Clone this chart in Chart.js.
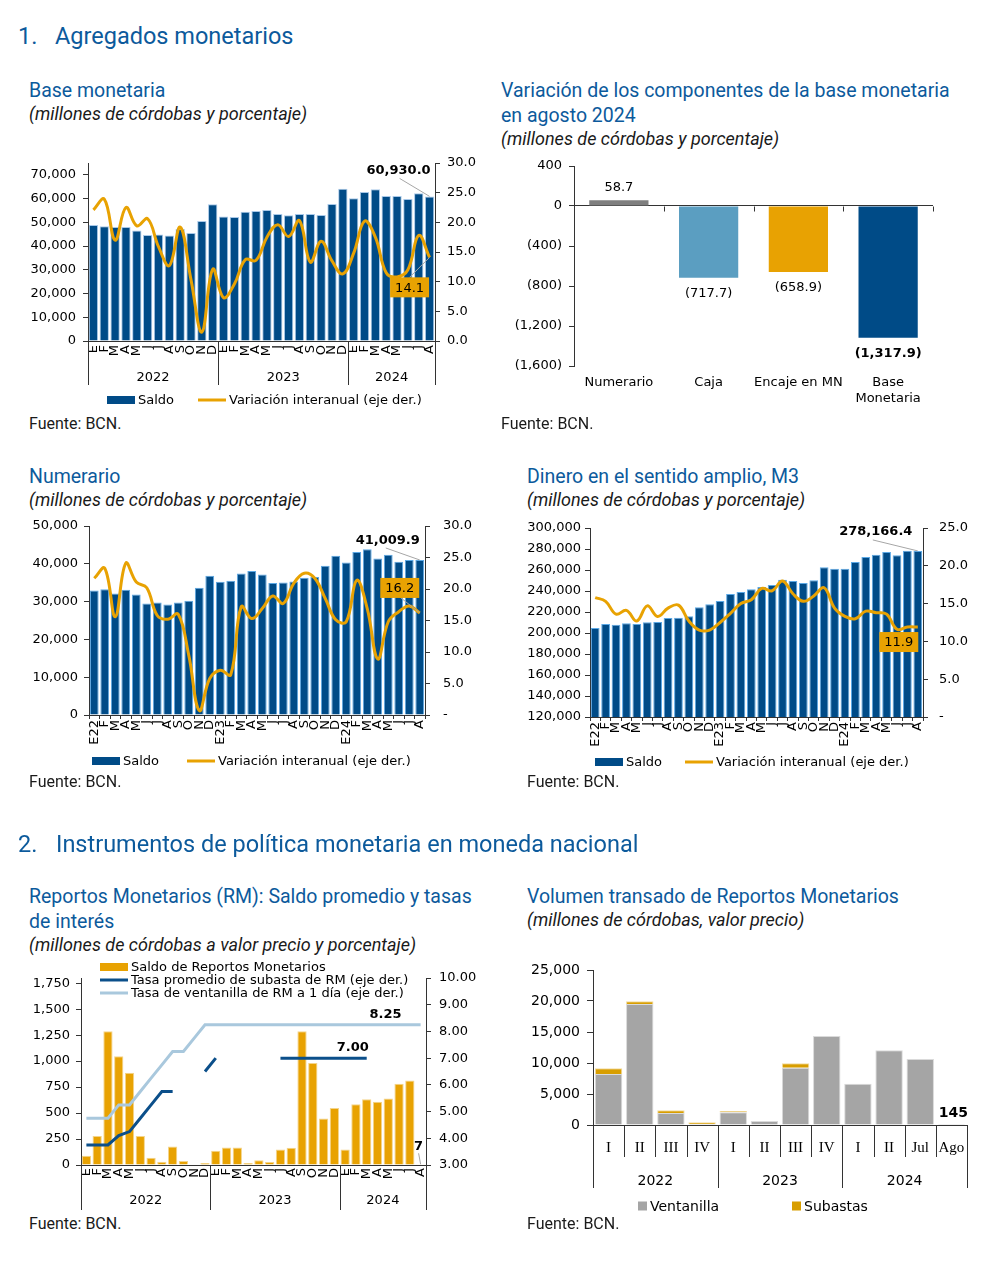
<!DOCTYPE html>
<html lang="es">
<head>
<meta charset="utf-8">
<title>Agregados monetarios</title>
<script src="https://cdn.jsdelivr.net/npm/chart.js@4.4.1/dist/chart.umd.min.js"></script>
<style>
  html, body { margin: 0; padding: 0; background: #fff; }
  body { position: relative; width: 987px; height: 1274px; overflow: hidden; font-family: Roboto, "Noto Sans", sans-serif; }
  .t { position: absolute; white-space: nowrap; line-height: 1; color: #0C5A9C; }
  .h { font-size: 23.5px; }
  .ct { font-size: 19.5px; }
  .ct2 { font-size: 19.5px; line-height: 25px; }
  .st { font-size: 18px; font-style: italic; color: #1a1a1a; }
  .src { font-size: 16px; color: #1a1a1a; }
  .caja { position: absolute; }
</style>
</head>
<body>
<div class="t h" style="left:18px;top:25px">1.</div>
<div class="t h" style="left:55px;top:25px">Agregados monetarios</div>

<div class="t ct" style="left:29px;top:81px">Base monetaria</div>
<div class="t st" style="left:29px;top:105px">(millones de córdobas y porcentaje)</div>
<div class="caja" style="left:18px;top:150px;width:472px;height:262px"><canvas id="graf-base"></canvas></div>
<div class="t src" style="left:29px;top:416px">Fuente: BCN.</div>

<div class="t ct2" style="left:501px;top:78px">Variación de los componentes de la base monetaria<br>en agosto 2024</div>
<div class="t st" style="left:501px;top:130px">(millones de córdobas y porcentaje)</div>
<div class="caja" style="left:505px;top:150px;width:455px;height:265px"><canvas id="graf-variacion"></canvas></div>
<div class="t src" style="left:501px;top:416px">Fuente: BCN.</div>

<div class="t ct" style="left:29px;top:467px">Numerario</div>
<div class="t st" style="left:29px;top:491px">(millones de córdobas y porcentaje)</div>
<div class="caja" style="left:18px;top:515px;width:472px;height:262px"><canvas id="graf-numerario"></canvas></div>
<div class="t src" style="left:29px;top:774px">Fuente: BCN.</div>

<div class="t ct" style="left:527px;top:467px">Dinero en el sentido amplio, M3</div>
<div class="t st" style="left:527px;top:491px">(millones de córdobas y porcentaje)</div>
<div class="caja" style="left:520px;top:515px;width:460px;height:262px"><canvas id="graf-m3"></canvas></div>
<div class="t src" style="left:527px;top:774px">Fuente: BCN.</div>

<div class="t h" style="left:18px;top:833px">2.</div>
<div class="t h" style="left:56px;top:833px">Instrumentos de política monetaria en moneda nacional</div>

<div class="t ct2" style="left:29px;top:884px">Reportos Monetarios (RM): Saldo promedio y tasas<br>de interés</div>
<div class="t st" style="left:29px;top:936px">(millones de córdobas a valor precio y porcentaje)</div>
<div class="caja" style="left:18px;top:955px;width:472px;height:258px"><canvas id="graf-reportos"></canvas></div>
<div class="t src" style="left:29px;top:1216px">Fuente: BCN.</div>

<div class="t ct" style="left:527px;top:887px">Volumen transado de Reportos Monetarios</div>
<div class="t st" style="left:527px;top:911px">(millones de córdobas, valor precio)</div>
<div class="caja" style="left:520px;top:955px;width:460px;height:260px"><canvas id="graf-volumen"></canvas></div>
<div class="t src" style="left:527px;top:1216px">Fuente: BCN.</div>

<script>
// Etiquetas de tiempo
const mesesLetras = ["E","F","M","A","M","J","J","A","S","O","N","D","E","F","M","A","M","J","J","A","S","O","N","D","E","F","M","A","M","J","J","A"];
const mesesConAnio = ["E22","F","M","A","M","J","J","A","S","O","N","D","E23","F","M","A","M","J","J","A","S","O","N","D","E24","F","M","A","M","J","J","A"];
const anios = ["2022", "2023", "2024"];
const mesesPorAnio = [12, 12, 8];

// Base monetaria
const baseSaldo = [48900,48300,48000,48000,46600,44650,44900,44500,47200,45500,50560,57600,52500,52250,54500,54800,55200,53500,53000,53500,53500,53100,57750,64200,60140,62800,63900,61100,61100,59860,62250,60930.0];
const baseVariacion = [22.1,23.9,17.0,22.5,19.4,20.6,15.9,12.7,19.2,10.3,1.5,12.1,7.3,9.6,13.7,13.6,17.5,19.6,17.6,20.3,13.3,16.8,13.5,11.3,14.8,20.2,17.5,11.5,10.8,12.0,17.8,14.1];

// Variación de componentes, agosto 2024
const componentes = ["Numerario", "Caja", "Encaje en MN", ["Base", "Monetaria"]];
const variacionAgosto = [58.7, -717.7, -658.9, -1317.9];

// Numerario
const numSaldo = [32950,33300,32150,33130,31900,29500,29770,29240,29770,30200,33660,36840,35250,35510,37460,38070,37190,34890,35070,35340,36300,36480,39490,42140,40370,43110,43820,41430,42400,40550,41000,41009.9];
const numVariacion = [21.7,23.3,15.6,24.1,21.1,20.2,15.8,15.2,16.0,9.5,0.7,5.8,7.1,6.4,17.2,15.3,16.9,18.9,17.7,20.9,22.5,21.7,18.5,15.1,14.8,21.4,16.9,8.9,14.8,16.4,17.3,16.2];

// M3
const m3Saldo = [204760,208570,207940,209200,208570,210160,210480,214290,214600,215870,224440,227300,230480,237140,239050,241590,243810,245710,250790,249520,247620,250160,262540,261270,261270,267620,272380,274600,277140,273970,278410,278166.4];
const m3Variacion = [15.8,15.3,13.6,14.1,12.7,14.7,13.3,14.4,14.8,12.7,11.5,11.5,12.5,13.7,15.0,15.5,17.0,16.7,18.0,16.3,15.3,16.0,17.1,14.4,13.3,13.0,14.0,13.8,13.6,11.6,11.9,11.9];

// Reportos monetarios
const rmSaldo = [90,280,1287,1047,888,278,70,32,179,38,0,19,137,169,169,19,45,29,150,166,1287,983,447,549,150,584,632,610,639,782,814,7];
const rmSubasta = [3.75,3.75,3.75,4.1,4.25,4.75,5.25,5.75,5.75,null,null,6.5,7.0,null,null,null,null,null,7.0,7.0,7.0,7.0,7.0,7.0,7.0,7.0,7.0,null,null,null,null,null];
const rmVentanilla = [4.75,4.75,4.75,5.25,5.25,5.75,6.25,6.75,7.25,7.25,7.75,8.25,8.25,8.25,8.25,8.25,8.25,8.25,8.25,8.25,8.25,8.25,8.25,8.25,8.25,8.25,8.25,8.25,8.25,8.25,8.25,8.25];

// Volumen transado
const periodos = ["I","II","III","IV","I","II","III","IV","I","II","Jul","Ago"];
const periodosPorAnio = [4, 4, 4];
const volVentanilla = [8230,19520,1940,160,2040,640,9250,14350,6670,12040,10650,145];
const volSubastas = [910,430,430,270,220,0,700,0,0,0,0,0];

const AZUL = "#004B87";
const NARANJA = "#E8A202";
const EJE = "#333333";
const FUENTE = '"DejaVu Sans", Verdana, sans-serif';

Chart.defaults.font.family = FUENTE;
Chart.defaults.font.size = 13;
Chart.defaults.color = "#000";
Chart.defaults.animation = false;
Chart.defaults.maintainAspectRatio = false;
Chart.defaults.plugins.legend.display = false;
Chart.defaults.plugins.tooltip.enabled = false;

const miles = v => v.toLocaleString("en-US");
const miles1 = v => v.toLocaleString("en-US", { minimumFractionDigits: 1, maximumFractionDigits: 1 });
const parentesis = v => v < 0 ? "(" + miles1(-v) + ")" : miles1(v);

// ancho/alto fijo del eje, sin relleno extra por las etiquetas
const fijarAncho = w => s => { s.width = w; s.paddingTop = 0; s.paddingBottom = 0; };
const fijarAlto = h => s => { s.height = h; s.paddingLeft = 0; s.paddingRight = 0; };
// marcas cada "paso" desde el mínimo, sin mostrar el máximo
const marcasCada = paso => s => {
  const t = [];
  for (let v = s.min; v <= s.max + 1e-9; v += paso) t.push({ value: v });
  s.ticks = t;
};

// años debajo del eje x, con separadores verticales
const grupos = {
  id: "grupos",
  afterDraw(chart, args, o) {
    if (!o.nombres) return;
    const { ctx, chartArea: ca } = chart;
    const xs = chart.scales.x;
    const n = chart.data.labels.length;
    const borde = i => i <= 0 ? ca.left : i >= n ? ca.right : (xs.getPixelForValue(i - 1) + xs.getPixelForValue(i)) / 2;
    const linea = (x, h) => {
      const px = Math.round(x) + 0.5;
      ctx.beginPath(); ctx.moveTo(px, ca.bottom); ctx.lineTo(px, ca.bottom + h); ctx.stroke();
    };
    ctx.save();
    ctx.strokeStyle = EJE; ctx.lineWidth = 1;
    if (o.interior) for (let i = 0; i <= n; i++) linea(borde(i), o.interior);
    ctx.font = (o.tam || 13) + "px " + FUENTE;
    ctx.fillStyle = "#000"; ctx.textAlign = "center"; ctx.textBaseline = "middle";
    let ini = 0;
    o.nombres.forEach((nombre, k) => {
      const fin = ini + o.tamanos[k];
      linea(borde(ini), o.alto);
      ctx.fillText(nombre, (borde(ini) + borde(fin)) / 2, ca.bottom + o.textoY);
      ini = fin;
    });
    linea(borde(n), o.alto);
    ctx.restore();
  }
};

// etiquetas de valores con línea guía opcional
const notas = {
  id: "notas",
  afterDatasetsDraw(chart, args, o) {
    if (!o.items) return;
    const ctx = chart.ctx;
    o.items.forEach(n => {
      const el = chart.getDatasetMeta(n.ds).data[n.index];
      const x = el.x, y = el.y;
      ctx.save();
      if (n.guia) {
        ctx.strokeStyle = "#A6A6A6"; ctx.lineWidth = 1;
        ctx.beginPath(); ctx.moveTo(x + n.guia[0], y + n.guia[1]); ctx.lineTo(x, y); ctx.stroke();
      }
      ctx.font = (n.negrita ? "bold " : "") + (n.tam || 13) + "px " + FUENTE;
      ctx.textAlign = "center"; ctx.textBaseline = "middle";
      const cx = x + n.dx, cy = y + n.dy;
      if (n.fondo) {
        const w = ctx.measureText(n.texto).width + 10;
        ctx.fillStyle = n.fondo;
        ctx.fillRect(cx - w / 2, cy - 10, w, 20);
      }
      ctx.fillStyle = "#000";
      ctx.fillText(n.texto, cx, cy + 1);
      ctx.restore();
    });
  }
};

// leyenda dibujada en posiciones fijas
const leyenda = {
  id: "leyenda",
  afterDraw(chart, args, o) {
    if (!o.items) return;
    const ctx = chart.ctx;
    const w = o.w || 28, h = o.h || 8;
    ctx.save();
    ctx.font = (o.tam || 13) + "px " + FUENTE;
    ctx.textAlign = "left"; ctx.textBaseline = "middle";
    o.items.forEach(it => {
      const ds = chart.data.datasets[it.ds];
      if ((ds.type || chart.config.type) === "line") {
        ctx.strokeStyle = ds.borderColor; ctx.lineWidth = 3;
        ctx.beginPath(); ctx.moveTo(it.x, it.y); ctx.lineTo(it.x + w, it.y); ctx.stroke();
      } else {
        ctx.fillStyle = ds.backgroundColor;
        ctx.fillRect(it.x, it.y - h / 2, w, h);
      }
      ctx.fillStyle = "#000";
      ctx.fillText(ds.label, it.x + w + (o.sep || 3), it.y + 1);
    });
    ctx.restore();
  }
};

// marcas sobre la línea de cero
const marcasCero = {
  id: "marcasCero",
  afterDraw(chart, args, o) {
    if (!o.activo) return;
    const { ctx, chartArea: ca } = chart;
    const xs = chart.scales.x;
    const y0 = Math.round(chart.scales.y.getPixelForValue(0)) + 0.5;
    const n = chart.data.labels.length;
    ctx.save();
    ctx.strokeStyle = EJE; ctx.lineWidth = 1;
    for (let i = 1; i <= n; i++) {
      const xb = i < n ? (xs.getPixelForValue(i - 1) + xs.getPixelForValue(i)) / 2 : ca.right;
      ctx.beginPath(); ctx.moveTo(Math.round(xb) + 0.5, y0); ctx.lineTo(Math.round(xb) + 0.5, y0 + 5); ctx.stroke();
    }
    ctx.restore();
  }
};

Chart.register(grupos, notas, leyenda, marcasCero);

function graficoSaldo(id, saldo, variacion, a) {
  return new Chart(document.getElementById(id), {
    type: "bar",
    data: {
      labels: a.meses,
      datasets: [
        { label: "Saldo", data: saldo, backgroundColor: AZUL, borderColor: a.borde, borderWidth: 1, barPercentage: a.ancho, categoryPercentage: 1, order: 2 },
        { type: "line", label: "Variación interanual (eje der.)", data: variacion, yAxisID: "y1", borderColor: NARANJA, borderWidth: 3, pointRadius: 0, tension: 0.4, order: 1 }
      ]
    },
    options: {
      layout: { padding: { top: a.arriba } },
      scales: {
        x: {
          grid: { display: a.marcasX, drawTicks: a.marcasX, drawOnChartArea: false, tickLength: 4, color: EJE },
          border: { color: EJE },
          ticks: { autoSkip: false, minRotation: 90, maxRotation: 90, padding: a.padX },
          afterFit: fijarAlto(a.altoX)
        },
        y: {
          min: a.yMin, max: a.yMax,
          ticks: { padding: a.padY, callback: v => miles(v) },
          afterBuildTicks: marcasCada(a.paso),
          grid: { drawOnChartArea: false, tickLength: 5, color: EJE },
          border: { color: EJE },
          afterFit: fijarAncho(a.anchoY)
        },
        y1: {
          position: "right", min: 0, max: a.derMax,
          ticks: { padding: a.padDer, callback: a.formatoDer },
          afterBuildTicks: marcasCada(5),
          grid: { drawOnChartArea: false, tickLength: 5, color: EJE },
          border: { color: EJE },
          afterFit: fijarAncho(a.anchoDer)
        }
      },
      plugins: {
        grupos: a.grupos || {},
        notas: { items: a.notas },
        leyenda: { items: a.leyenda }
      }
    }
  });
}

// Base monetaria
graficoSaldo("graf-base", baseSaldo, baseVariacion, {
  meses: mesesLetras, borde: "#A8C8E8", ancho: 0.86, arriba: 13,
  marcasX: false, padX: 4, altoX: 71,
  yMin: 0, yMax: 75000, paso: 10000, padY: 7, anchoY: 70,
  derMax: 30, padDer: 7, anchoDer: 55, formatoDer: v => v.toFixed(1),
  grupos: { nombres: anios, tamanos: mesesPorAnio, alto: 44, textoY: 37 },
  notas: [
    { ds: 0, index: 31, texto: miles1(baseSaldo[31]), negrita: true, dx: -31, dy: -27, guia: [-30, -18] },
    { ds: 1, index: 31, texto: baseVariacion[31].toFixed(1), fondo: NARANJA, dx: -20, dy: 30, guia: [-20, 20] }
  ],
  leyenda: [{ ds: 0, x: 89, y: 250 }, { ds: 1, x: 180, y: 250 }]
});

// Numerario
graficoSaldo("graf-numerario", numSaldo, numVariacion, {
  meses: mesesConAnio, borde: "#5BA8E5", ancho: 0.84, arriba: 11,
  marcasX: true, padX: 1, altoX: 62,
  yMin: 0, yMax: 50000, paso: 10000, padY: 6, anchoY: 71,
  derMax: 30, padDer: 13, anchoDer: 65, formatoDer: v => v === 0 ? "-" : v.toFixed(1),
  notas: [
    { ds: 0, index: 31, texto: miles1(numSaldo[31]), negrita: true, dx: -32, dy: -20, guia: [-34, -12] },
    { ds: 1, index: 31, texto: numVariacion[31].toFixed(1), fondo: NARANJA, dx: -20, dy: -25, guia: [-20, -16] }
  ],
  leyenda: [{ ds: 0, x: 74, y: 246 }, { ds: 1, x: 169, y: 246 }]
});

// M3
graficoSaldo("graf-m3", m3Saldo, m3Variacion, {
  meses: mesesConAnio, borde: "#5BA8E5", ancho: 0.84, arriba: 13,
  marcasX: true, padX: 1, altoX: 60,
  yMin: 120000, yMax: 300000, paso: 20000, padY: 4, anchoY: 70,
  derMax: 25, padDer: 11, anchoDer: 57, formatoDer: v => v === 0 ? "-" : v.toFixed(1),
  notas: [
    { ds: 0, index: 31, texto: miles1(m3Saldo[31]), negrita: true, dx: -42, dy: -20, guia: [-45, -11] },
    { ds: 1, index: 31, texto: m3Variacion[31].toFixed(1), fondo: NARANJA, dx: -19, dy: 15 }
  ],
  leyenda: [{ ds: 0, x: 75, y: 247 }, { ds: 1, x: 165, y: 247 }]
});

// Variación de los componentes
new Chart(document.getElementById("graf-variacion"), {
  type: "bar",
  data: {
    labels: componentes,
    datasets: [{
      label: "Variación",
      data: variacionAgosto,
      backgroundColor: ["#7F7F7F", "#5B9EC1", NARANJA, AZUL],
      barPercentage: 0.66, categoryPercentage: 1
    }]
  },
  options: {
    layout: { padding: { top: 16, right: 27 } },
    scales: {
      x: {
        grid: { display: false, drawTicks: false },
        border: { display: false },
        ticks: { autoSkip: false, maxRotation: 0, minRotation: 0, padding: 9 },
        afterFit: fijarAlto(49)
      },
      y: {
        min: -1600, max: 400,
        ticks: { padding: 7, callback: v => v < 0 ? "(" + miles(-v) + ")" : miles(v) },
        afterBuildTicks: marcasCada(400),
        grid: { tickLength: 5, tickColor: EJE, color: c => c.tick && c.tick.value === 0 ? EJE : "rgba(0,0,0,0)" },
        border: { color: EJE },
        afterFit: fijarAncho(69)
      }
    },
    plugins: {
      marcasCero: { activo: true },
      notas: { items: variacionAgosto.map((v, i) => ({ ds: 0, index: i, texto: parentesis(v), negrita: i === 3, dx: 0, dy: v >= 0 ? -14 : 15 })) }
    }
  }
});

// Reportos monetarios
new Chart(document.getElementById("graf-reportos"), {
  type: "bar",
  data: {
    labels: mesesLetras,
    datasets: [
      { label: "Saldo de Reportos Monetarios", data: rmSaldo, backgroundColor: NARANJA, borderColor: "#F4D48A", borderWidth: 1, barPercentage: 0.86, categoryPercentage: 1, order: 3 },
      { type: "line", label: "Tasa promedio de subasta de RM (eje der.)", data: rmSubasta, yAxisID: "y1", borderColor: "#0B4F8A", borderWidth: 3, pointRadius: 0, spanGaps: false, order: 1 },
      { type: "line", label: "Tasa de ventanilla de RM a 1 día (eje der.)", data: rmVentanilla, yAxisID: "y1", borderColor: "#A9C8DD", borderWidth: 3, pointRadius: 0, order: 2 }
    ]
  },
  options: {
    layout: { padding: { top: 23 } },
    scales: {
      x: {
        grid: { display: false, drawTicks: false },
        border: { color: EJE },
        ticks: { autoSkip: false, minRotation: 90, maxRotation: 90, padding: 3 },
        afterFit: fijarAlto(48)
      },
      y: {
        min: 0, max: 1800,
        ticks: { padding: 6, callback: v => miles(v) },
        afterBuildTicks: marcasCada(250),
        grid: { drawOnChartArea: false, tickLength: 5, color: EJE },
        border: { color: EJE },
        afterFit: fijarAncho(63)
      },
      y1: {
        position: "right", min: 3, max: 10,
        ticks: { padding: 8, callback: v => v.toFixed(2) },
        afterBuildTicks: marcasCada(1),
        grid: { drawOnChartArea: false, tickLength: 5, color: EJE },
        border: { color: EJE },
        afterFit: fijarAncho(64)
      }
    },
    plugins: {
      grupos: { nombres: anios, tamanos: mesesPorAnio, alto: 45, textoY: 36 },
      notas: { items: [
        { ds: 2, index: 31, texto: rmVentanilla[31].toFixed(2), negrita: true, dx: -35, dy: -11 },
        { ds: 1, index: 26, texto: rmSubasta[26].toFixed(2), negrita: true, dx: -14, dy: -12 },
        { ds: 0, index: 31, texto: String(rmSaldo[31]), negrita: true, dx: -2, dy: -19, guia: [-2, -11] }
      ] },
      leyenda: { items: [{ ds: 0, x: 82, y: 12 }, { ds: 1, x: 82, y: 25 }, { ds: 2, x: 82, y: 38 }] }
    }
  }
});

// Volumen transado
new Chart(document.getElementById("graf-volumen"), {
  type: "bar",
  data: {
    labels: periodos,
    datasets: [
      { label: "Ventanilla", data: volVentanilla, backgroundColor: "#A5A5A5", borderColor: "#DADADA", borderWidth: 1, barPercentage: 0.88, categoryPercentage: 1 },
      { label: "Subastas", data: volSubastas, backgroundColor: "#D89E00", borderColor: "#F2DCA0", borderWidth: 1, barPercentage: 0.88, categoryPercentage: 1 }
    ]
  },
  options: {
    layout: { padding: { top: 15, right: 13 } },
    scales: {
      x: {
        stacked: true,
        grid: { display: false, drawTicks: false },
        border: { color: EJE },
        ticks: { autoSkip: false, maxRotation: 0, padding: 14, font: { family: '"Liberation Serif", "Times New Roman", serif', size: 15 } },
        afterFit: fijarAlto(90)
      },
      y: {
        stacked: true, min: 0, max: 25000,
        ticks: { padding: 7, font: { size: 14 }, callback: v => miles(v) },
        afterBuildTicks: marcasCada(5000),
        grid: { drawOnChartArea: false, tickLength: 6, color: EJE },
        border: { color: EJE },
        afterFit: fijarAncho(73)
      }
    },
    plugins: {
      grupos: { nombres: anios, tamanos: periodosPorAnio, interior: 32, alto: 63, textoY: 56, tam: 14 },
      notas: { items: [{ ds: 0, index: 11, texto: String(volVentanilla[11]), negrita: true, tam: 14, dx: 2, dy: -12 }] },
      leyenda: { items: [{ ds: 0, x: 118, y: 251 }, { ds: 1, x: 272, y: 251 }], w: 9, h: 9, sep: 3, tam: 14 }
    }
  }
});
</script>
</body>
</html>
